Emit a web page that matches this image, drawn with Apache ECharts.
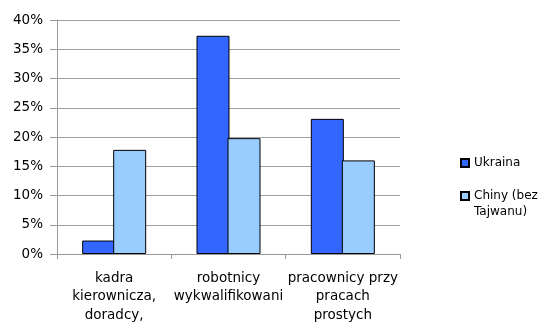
<!DOCTYPE html>
<html>
<head>
<meta charset="utf-8">
<script src="https://cdn.jsdelivr.net/npm/echarts@6/dist/echarts.min.js"></script>
<style>html,body{margin:0;padding:0;background:#fff}#c{width:540px;height:329px}</style>
</head>
<body>
<div id="c"></div>
<script>
const categories = ['kadra\nkierownicza,\ndoradcy,', 'robotnicy\nwykwalifikowani', 'pracownicy przy\npracach\nprostych'];
const ukraina = [2.3, 37.3, 23.1];
const chiny = [17.8, 19.8, 16.0];
const seriesNames = ['Ukraina', 'Chiny (bez Tajwanu)'];
const yTicks = [0, 5, 10, 15, 20, 25, 30, 35, 40];

const chart = echarts.init(document.getElementById('c'));
const font = 'DejaVu Sans, Verdana, sans-serif';
chart.setOption({
  animation: false,
  backgroundColor: '#fff',
  grid: { left: 57, right: 140, top: 20, bottom: 75, containLabel: false },
  legend: [
    { data: [seriesNames[0]], orient: 'vertical', left: 460, top: 156, padding: 0, itemWidth: 8, itemHeight: 8,
      icon: 'rect', textStyle: { fontFamily: font, fontSize: 12, color: '#000', lineHeight: 14 } },
    { data: [seriesNames[1]], orient: 'vertical', left: 460, top: 172, padding: 0, itemWidth: 8, itemHeight: 8,
      icon: 'rect', formatter: () => ' \nChiny (bez\nTajwanu)',
      textStyle: { fontFamily: font, fontSize: 12, color: '#000', lineHeight: 16 } }
  ],
  xAxis: {
    type: 'category', data: categories,
    axisLine: { lineStyle: { color: '#999' } },
    axisTick: { show: true, length: 5, lineStyle: { color: '#999' } },
    axisLabel: { interval: 0, margin: 15, fontFamily: font, fontSize: 13.5, color: '#000', lineHeight: 18.5 }
  },
  yAxis: {
    type: 'value', min: 0, max: 40, interval: 5,
    axisLine: { show: true, lineStyle: { color: '#999' } },
    axisTick: { show: true, inside: false, length: 7, lineStyle: { color: '#999' } },
    splitLine: { lineStyle: { color: '#a0a0a0' } },
    axisLabel: { margin: 14, fontFamily: font, fontSize: 13.5, color: '#000',
      formatter: v => (yTicks.indexOf(v) >= 0 ? v + '%' : '') }
  },
  series: [
    { name: seriesNames[0], type: 'bar', data: ukraina, barWidth: 33, barGap: '-6%',
      itemStyle: { color: '#3366FF', borderColor: '#000', borderWidth: 1 } },
    { name: seriesNames[1], type: 'bar', data: chiny, barWidth: 33, barGap: '-6%',
      itemStyle: { color: '#99CCFF', borderColor: '#000', borderWidth: 1 } }
  ]
});
</script>
</body>
</html>
